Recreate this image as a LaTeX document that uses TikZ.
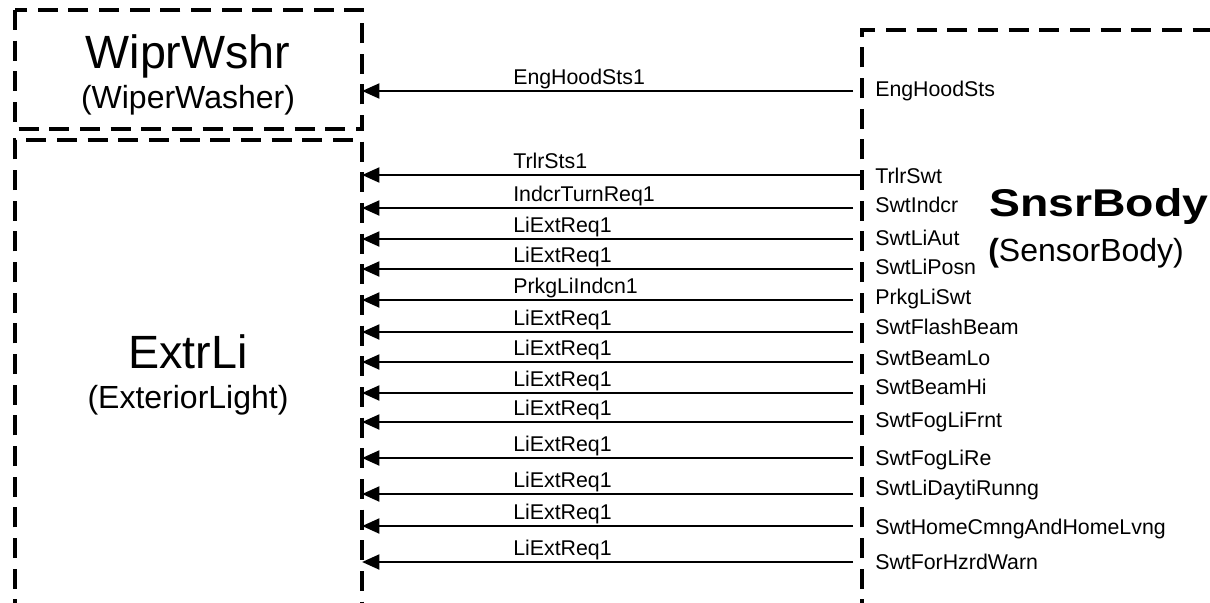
\documentclass[tikz,border=0pt]{standalone}
\usepackage{fontspec}
\setmainfont{Liberation Sans}
\usetikzlibrary{arrows.meta}
\tikzset{
  compbox/.style={line width=2.8pt,dash pattern=on 15pt off 8pt},
  sig/.style={line width=2.2pt,-{Triangle[length=13pt,width=11pt]}},
  siglabel/.style={font=\fontsize{16}{18}\selectfont,inner sep=0pt},
  bigname/.style={font=\fontsize{35}{40}\selectfont,inner sep=0pt,anchor=base},
  longname/.style={font=\fontsize{24}{28}\selectfont,inner sep=0pt,anchor=base}
}
\begin{document}
\begin{tikzpicture}[x=0.75pt,y=-0.75pt]
\clip (0,0) rectangle (1210,603);
% component boxes
\draw[compbox] (15,10) rectangle (362,129);
\draw[compbox] (15,650) |- (362,140) -- (362,650);
\draw[compbox] (862,650) |- (1250,30);
\coordinate (wiprE) at (362,70);
\coordinate (extrE) at (362,380);
\node[bigname] (wipr) at (188,68) {WiprWshr};
\node[longname] (wiprlong) at (188,108) {(WiperWasher)};
\node[bigname] (extr) at (188,368) {ExtrLi};
\node[longname] (extrlong) at (188,408) {(ExteriorLight)};
\node[font=\fontsize{29}{34}\selectfont\bfseries,inner sep=0pt,anchor=base west] (snsr) at (989,216) {\scalebox{1.2}[1]{SnsrBody}};
\node[longname,anchor=base west] (snsrlong) at (988,261) {\textbf{(}SensorBody)};
% signals
\foreach \ya/\yb/\xs/\dst/\in/\out [count=\i] in {
  91/89/853/wiprE/EngHoodSts1/EngHoodSts,
  175/176/862/extrE/TrlrSts1/TrlrSwt,
  208/205/853/extrE/IndcrTurnReq1/SwtIndcr,
  239/238/853/extrE/LiExtReq1/SwtLiAut,
  269/267/853/extrE/LiExtReq1/SwtLiPosn,
  300/297/853/extrE/PrkgLiIndcn1/PrkgLiSwt,
  332/327/853/extrE/LiExtReq1/SwtFlashBeam,
  362/358/853/extrE/LiExtReq1/SwtBeamLo,
  393/387/853/extrE/LiExtReq1/SwtBeamHi,
  422/420/853/extrE/LiExtReq1/SwtFogLiFrnt,
  458/458/853/extrE/LiExtReq1/SwtFogLiRe,
  494/488/853/extrE/LiExtReq1/SwtLiDaytiRunng,
  526/527/853/extrE/LiExtReq1/SwtHomeCmngAndHomeLvng,
  562/562/853/extrE/LiExtReq1/SwtForHzrdWarn}
{
  \coordinate (src\i) at (\xs,\ya);
  \node[siglabel,anchor=base west] (out\i) at (875,\yb+7) {\out};
  \node[siglabel,anchor=base west] (in\i) at (513,\ya-7) {\in};
  \draw[sig] (src\i) -- (src\i -| \dst);
}
\end{tikzpicture}
\end{document}
